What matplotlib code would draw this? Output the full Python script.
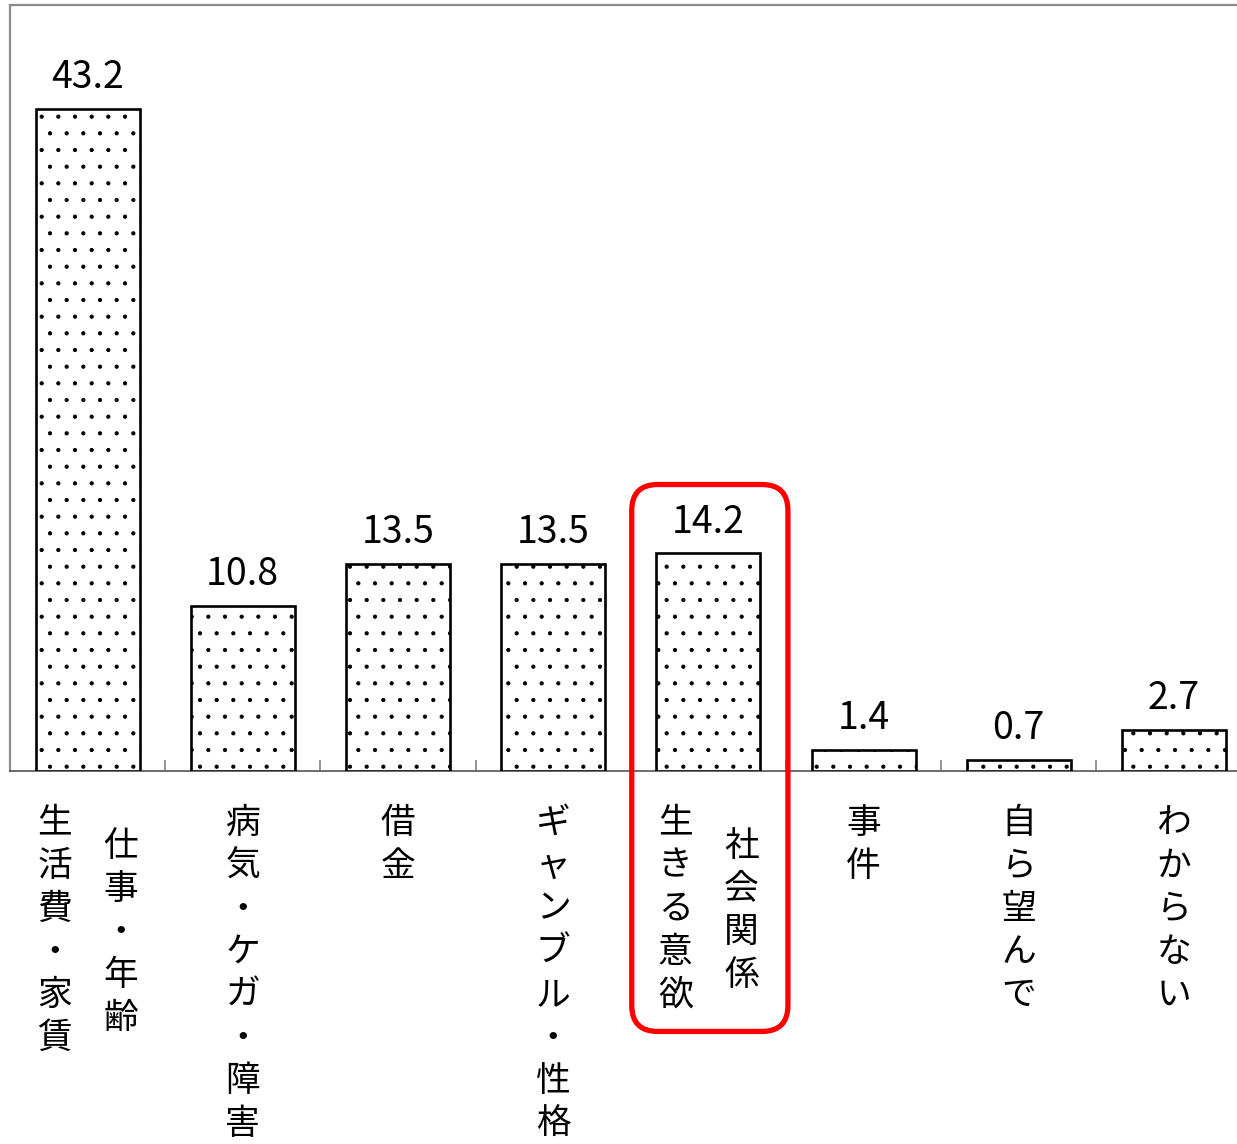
import numpy as np
import matplotlib
matplotlib.use('Agg')
import matplotlib.pyplot as plt
from matplotlib.patches import FancyBboxPatch
from matplotlib.transforms import IdentityTransform

plt.rcParams['font.family'] = ['Noto Sans CJK JP', 'DejaVu Sans']
plt.rcParams['hatch.color'] = 'black'
plt.rcParams['hatch.linewidth'] = 0.6

# data (%)
values = [43.2, 10.8, 13.5, 13.5, 14.2, 1.4, 0.7, 2.7]
# vertical labels, one string per column (left column first)
label_cols = [
    ["生活費・家賃", "仕事・年齢"],
    ["病気・ケガ・障害"],
    ["借金"],
    ["ギャンブル・性格"],
    ["生きる意欲", "社会関係"],
    ["事件"],
    ["自ら望んで"],
    ["わからない"],
]
highlight = 4

W, H = 1237, 1144
fig = plt.figure(figsize=(W / 100, H / 100), dpi=100)
# axes spans past the right edge, as in the original
ax = fig.add_axes([10 / W, (H - 771) / H, 1241.5 / W, 766 / H])

x = np.arange(len(values))
ax.bar(x, values, width=0.67, color='white', edgecolor='black',
       linewidth=1.9, hatch='.', zorder=3)

ax.set_xlim(-0.5, len(values) - 0.5)
ax.set_ylim(0, 50)
ax.set_yticks([])

# separators between categories, pointing up
ax.set_xticks(np.arange(0.5, len(values) - 1, 1))
ax.set_xticklabels([])
ax.tick_params(axis='x', direction='in', length=8, width=1.2, color='#808080')

for side in ['left', 'top']:
    ax.spines[side].set_color('#8c8c8c')
    ax.spines[side].set_linewidth(1.6)
ax.spines['bottom'].set_color('#606060')
ax.spines['bottom'].set_linewidth(1.3)
ax.spines['right'].set_visible(False)

# value labels
for i, v in enumerate(values):
    ax.annotate(f"{v:.1f}", (i, v), xytext=(0, 15), textcoords='offset points',
                ha='center', va='baseline', fontsize=27)

# vertical (tategaki) category labels
pitch = 31      # points between characters
first = -37.5   # first char centre below the baseline
col_dx = 23.8   # column offset for two-column labels
for i, cols in enumerate(label_cols):
    if len(cols) == 1:
        offsets = [(0, 0)]
    else:
        offsets = [(-col_dx, 0), (col_dx, -17)]
    for text, (dx, dy0) in zip(cols, offsets):
        for k, ch in enumerate(text):
            ax.annotate(ch, (i, 0), xytext=(dx, first + dy0 - k * pitch),
                        textcoords='offset points', ha='center', va='center',
                        fontsize=25, annotation_clip=False)

# red rounded frame around the highlighted category
fig.canvas.draw()
(x0, y0) = ax.transData.transform((highlight - 0.5, -17.0))
(x1, y1) = ax.transData.transform((highlight + 0.5, 18.7))
frame = FancyBboxPatch((x0 + 1, y0), x1 - x0 + 1, y1 - y0,
                       boxstyle="round,pad=0,rounding_size=26",
                       transform=IdentityTransform(), fill=False,
                       edgecolor='#ff0000', linewidth=3.8, zorder=5)
fig.patches.append(frame)

fig.savefig('out.png', dpi=100)
